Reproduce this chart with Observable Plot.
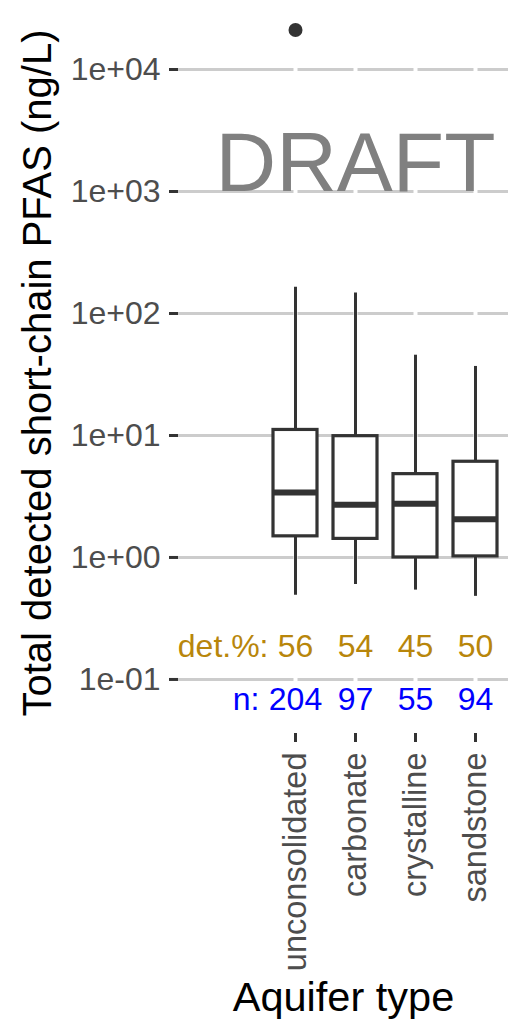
<!DOCTYPE html>
<html><head><meta charset="utf-8">
<script src="https://cdn.jsdelivr.net/npm/d3@7"></script>
<script src="https://cdn.jsdelivr.net/npm/@observablehq/plot@0.6"></script>
<style>
html,body{margin:0;padding:0;background:#fff;}
#chart svg{display:block;}
</style></head><body><div id="chart"></div>
<script>
// ---- data ----
const aquifers = ["unconsolidated", "carbonate", "crystalline", "sandstone"];
const whiskerLow  = [0.49, 0.60, 0.54, 0.48];
const q1          = [1.49, 1.42, 1.00, 1.02];
const median      = [3.41, 2.70, 2.76, 2.06];
const q3          = [11.1, 9.87, 4.82, 6.09];
const whiskerHigh = [164, 147, 45.5, 36.8];
const outlierAquifer = ["unconsolidated"];
const outlierValue   = [21100];
const detPct   = [56, 54, 45, 50];
const nSamples = [204, 97, 55, 94];
const detLabelY = 0.185;
const nLabelY   = 0.068;
const yTickValues = [1e4, 1e3, 1e2, 1e1, 1e0, 1e-1];
const yTickLabels = ["1e+04", "1e+03", "1e+02", "1e+01", "1e+00", "1e-01"];
const yTitle = "Total detected short-chain PFAS (ng/L)";
const xTitle = "Aquifer type";
const draftText = ["DRAFT"];
const draftAquifer = "carbonate";
const draftValue = 1680;

// ---- tables built from the arrays ----
const boxes = aquifers.map((a, i) => ({aquifer: a, lo: whiskerLow[i], q1: q1[i], med: median[i], q3: q3[i], hi: whiskerHigh[i]}));
const outliers = outlierAquifer.map((a, i) => ({aquifer: a, value: outlierValue[i]}));
const labels = aquifers.map((a, i) => ({aquifer: a, det: detPct[i], n: nSamples[i]}));
const tickLabel = new Map(yTickValues.map((v, i) => [v, yTickLabels[i]]));

const ink = "#333333";
const axisText = "#4d4d4d";

const chart = Plot.plot({
  width: 508,
  height: 1020,
  marginLeft: 178,
  marginRight: 0,
  marginTop: 0,
  marginBottom: 287,
  style: {fontFamily: "'Liberation Sans', Arial, sans-serif", fontSize: "32px", color: axisText, background: "#fff", overflow: "visible"},
  x: {type: "band", domain: aquifers, range: [264, 505], paddingInner: 0.27, paddingOuter: 0.135, axis: null},
  y: {type: "log", domain: [Math.pow(10, -1.443), Math.pow(10, 4.5656)], axis: null},
  marks: [
    Plot.gridY(yTickValues, {stroke: "#cccccc", strokeOpacity: 1, strokeWidth: 3}),
    Plot.ruleX(aquifers, {x: d => d, stroke: "#fff", strokeWidth: 4}),
    Plot.axisY(yTickValues, {tickSize: 9, tickPadding: 9, stroke: ink, strokeWidth: 3, fill: axisText, fontSize: 32, tickFormat: v => tickLabel.get(v), label: null}),
    Plot.axisX(aquifers, {tickSize: 9, tickPadding: 10, tickRotate: -90, stroke: ink, strokeWidth: 3, fill: axisText, fontSize: 32.5, label: null}),
    Plot.ruleX(boxes, {x: "aquifer", y1: "lo", y2: "hi", stroke: ink, strokeWidth: 3}),
    Plot.barY(boxes, {x: "aquifer", y1: "q1", y2: "q3", fill: "#fff", stroke: ink, strokeWidth: 3.2}),
    Plot.tickY(boxes, {x: "aquifer", y: "med", stroke: ink, strokeWidth: 6}),
    Plot.dot(outliers, {x: "aquifer", y: "value", r: 7, fill: ink, stroke: null}),
    Plot.text(draftText, {x: () => draftAquifer, y: () => draftValue, text: d => d, fontSize: 84, fill: "#808080", lineAnchor: "middle"}),
    Plot.text(labels, {x: "aquifer", y: () => detLabelY, text: d => String(d.det), fill: "#B8860B", fontSize: 32, lineAnchor: "middle"}),
    Plot.text(labels.slice(0, 1), {x: "aquifer", y: () => detLabelY, text: () => "det.%:", fill: "#B8860B", fontSize: 32, lineAnchor: "middle", textAnchor: "end", dx: -27}),
    Plot.text(labels, {x: "aquifer", y: () => nLabelY, text: d => String(d.n), fill: "#0000FF", fontSize: 32, lineAnchor: "middle"}),
    Plot.text(labels.slice(0, 1), {x: "aquifer", y: () => nLabelY, text: () => "n:", fill: "#0000FF", fontSize: 32, lineAnchor: "middle", textAnchor: "end", dx: -36}),
    Plot.text([yTitle], {frameAnchor: "left", text: d => d, rotate: -90, dx: -140, dy: 6, fontSize: 40, fill: "#000", lineAnchor: "middle", textAnchor: "middle"}),
    Plot.text([xTitle], {frameAnchor: "bottom", text: d => d, dy: 264, fontSize: 41.5, fill: "#000", lineAnchor: "middle", textAnchor: "middle"})
  ]
});
document.getElementById("chart").appendChild(chart);
</script>
</body></html>
